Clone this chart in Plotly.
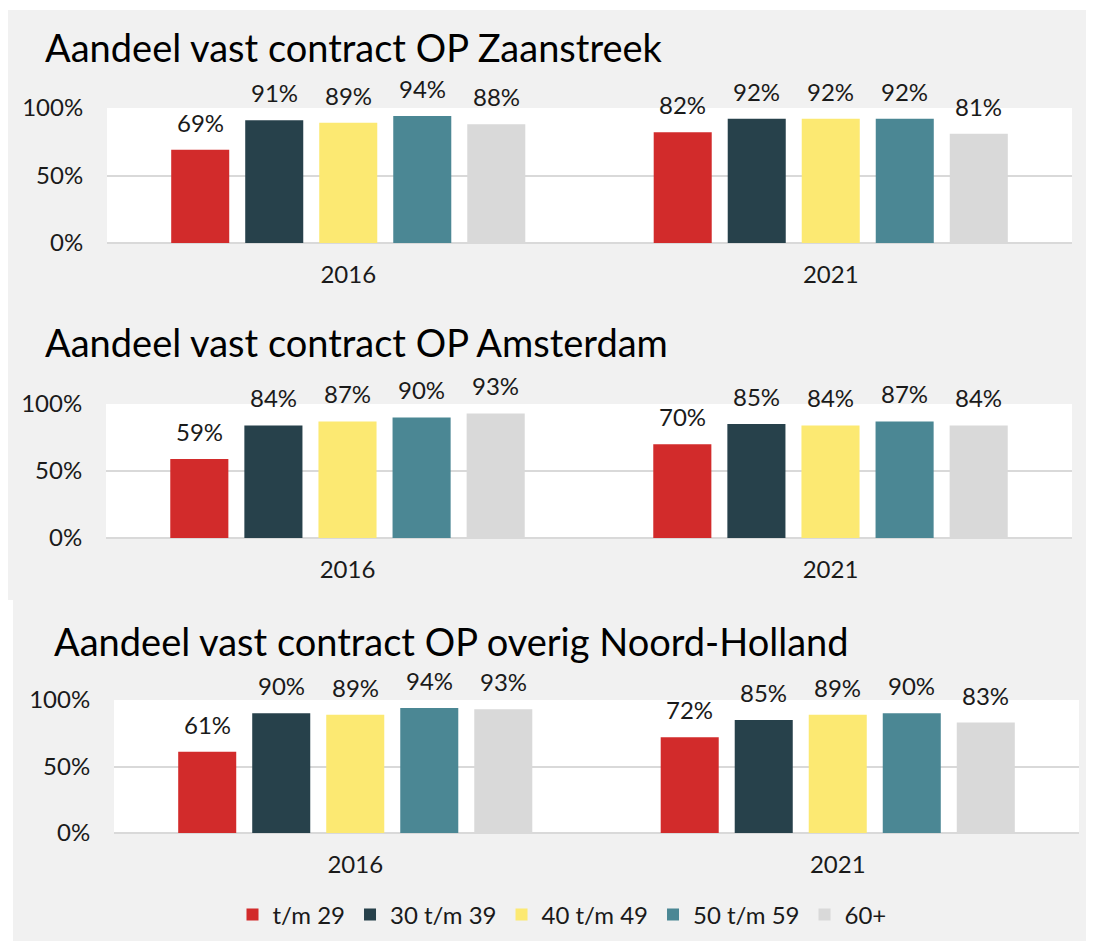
import plotly.graph_objects as go

# the page body keeps its default 8px margin, so the figure is sized to fit the window
OFF = 8
W, H = 1094 - 2 * OFF, 949 - 2 * OFF

years = ["2016", "2021"]
age_groups = ["t/m 29", "30 t/m 39", "40 t/m 49", "50 t/m 59", "60+"]
colors = ["#D22B2B", "#27414B", "#FCE972", "#4B8794", "#D9D9D9"]

titles = [
    "Aandeel vast contract OP Zaanstreek",
    "Aandeel vast contract OP Amsterdam",
    "Aandeel vast contract OP overig Noord-Holland",
]

# values per age group: [2016, 2021]
zaanstreek_tm29 = [69, 82]
zaanstreek_30_39 = [91, 92]
zaanstreek_40_49 = [89, 92]
zaanstreek_50_59 = [94, 92]
zaanstreek_60p = [88, 81]

amsterdam_tm29 = [59, 70]
amsterdam_30_39 = [84, 85]
amsterdam_40_49 = [87, 84]
amsterdam_50_59 = [90, 87]
amsterdam_60p = [93, 84]

overig_tm29 = [61, 72]
overig_30_39 = [90, 85]
overig_40_49 = [89, 89]
overig_50_59 = [94, 90]
overig_60p = [93, 83]

panels = [
    [zaanstreek_tm29, zaanstreek_30_39, zaanstreek_40_49, zaanstreek_50_59, zaanstreek_60p],
    [amsterdam_tm29, amsterdam_30_39, amsterdam_40_49, amsterdam_50_59, amsterdam_60p],
    [overig_tm29, overig_30_39, overig_40_49, overig_50_59, overig_60p],
]

FONT = "Lato"
TXT = "#1a1a1a"
GRID = "#d9d9d9"
BARGAP = 0.233
BARGROUPGAP = 0.216


def fx(px):
    return (px - OFF) / W


def fy(py):
    return 1 - (py - OFF) / H


# window-pixel layout: (x0, x1, ytop, ybottom) of each plot area, title pos
plot_boxes = [(107, 1072, 108, 243), (106, 1072, 404, 538), (114, 1079, 700, 833)]
title_pos = [(43, 47), (43, 342), (52, 641)]

fig = go.Figure()
annotations = []
slot = (1 - BARGAP) / len(age_groups)

for p, series in enumerate(panels):
    ax = "" if p == 0 else str(p + 1)
    for i, (name, vals) in enumerate(zip(age_groups, series)):
        fig.add_trace(go.Bar(
            x=years, y=[v / 100 for v in vals], name=name,
            marker=dict(color=colors[i], line=dict(width=0)),
            xaxis="x" + ax, yaxis="y" + ax,
            showlegend=(p == 0), legendgroup=name,
            hoverinfo="skip",
        ))
        for c, v in enumerate(vals):
            annotations.append(dict(
                x=c + (i - 2) * slot, y=v / 100, xref="x" + ax, yref="y" + ax,
                text=f"{v}%", showarrow=False, yanchor="bottom", yshift=11,
                font=dict(family=FONT, size=24, color=TXT),
            ))
    x0, x1, yt, yb = plot_boxes[p]
    fig.update_layout(**{
        "xaxis" + ax: dict(
            domain=[fx(x0), fx(x1)], anchor="y" + ax, type="category",
            showgrid=False, showline=False, zeroline=False, automargin=False,
            ticks="outside", ticklen=10, tickcolor="rgba(0,0,0,0)",
            tickfont=dict(family=FONT, size=24, color=TXT),
        ),
        "yaxis" + ax: dict(
            domain=[fy(yb), fy(yt)], anchor="x" + ax, automargin=False,
            range=[0, 1], tickvals=[0, 0.5, 1], tickformat=".0%",
            showgrid=True, gridcolor=GRID, gridwidth=1.5,
            zeroline=True, zerolinecolor=GRID, zerolinewidth=1.5,
            showline=False, ticks="outside", ticklen=18, tickcolor="rgba(0,0,0,0)",
            tickfont=dict(family=FONT, size=24, color=TXT),
        ),
    })
    tx, ty = title_pos[p]
    annotations.append(dict(
        x=fx(tx), y=fy(ty), xref="paper", yref="paper",
        xanchor="left", yanchor="middle", showarrow=False,
        text=titles[p], font=dict(family=FONT, size=38, color="#000000"),
    ))

# window-pixel white areas (x0, x1, y0, y1) outside the grey panels
white_strips = [(0, 1094, 0, 10), (0, 6, 10, 303), (0, 5, 303, 600), (0, 13, 600, 949)]
shapes = [
    dict(type="rect", xref="paper", yref="paper",
         x0=fx(a), x1=fx(b), y0=fy(d), y1=fy(c),
         fillcolor="white", line=dict(width=0), layer="below")
    for a, b, c, d in white_strips
]

fig.update_layout(
    width=W, height=H,
    margin=dict(l=0, r=0, t=0, b=0, autoexpand=False),
    paper_bgcolor="#F1F1F1", plot_bgcolor="white",
    barmode="group", bargap=BARGAP, bargroupgap=BARGROUPGAP,
    font=dict(family=FONT, color=TXT),
    annotations=annotations, shapes=shapes,
    legend=dict(
        orientation="h", x=fx(562), xanchor="center", y=fy(915), yanchor="middle",
        font=dict(family=FONT, size=24, color=TXT), bgcolor="rgba(0,0,0,0)",
        traceorder="normal",
    ),
)

fig.write_html("out.html")
